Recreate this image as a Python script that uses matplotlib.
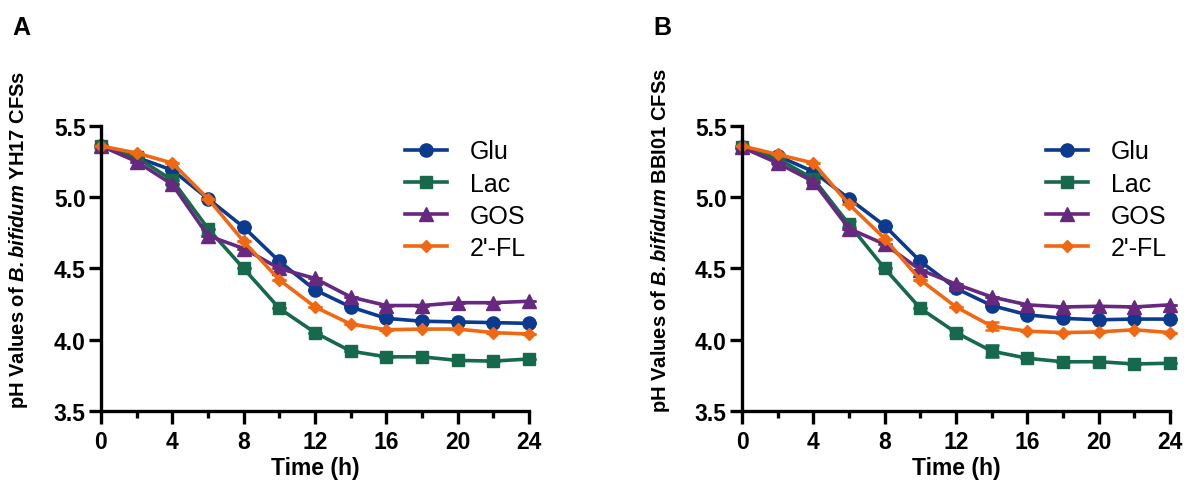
import numpy as np
import matplotlib.pyplot as plt
from matplotlib.ticker import MultipleLocator

plt.rcParams['font.family'] = ['Liberation Sans', 'DejaVu Sans']
plt.rcParams['mathtext.fontset'] = 'custom'
plt.rcParams['mathtext.bfit'] = 'Liberation Sans:bold:italic'

# sampling times (h)
time = [0, 2, 4, 6, 8, 10, 12, 14, 16, 18, 20, 22, 24]
series = ["Glu", "Lac", "GOS", "2'-FL"]

# panel A: B. bifidum YH17
yh17_glu = [5.36, 5.28, 5.19, 4.99, 4.79, 4.55, 4.35, 4.23, 4.15, 4.13, 4.125, 4.12, 4.115]
yh17_lac = [5.36, 5.28, 5.12, 4.78, 4.50, 4.22, 4.05, 3.92, 3.88, 3.88, 3.855, 3.85, 3.865]
yh17_gos = [5.36, 5.25, 5.09, 4.73, 4.64, 4.50, 4.43, 4.30, 4.24, 4.24, 4.26, 4.26, 4.27]
yh17_fl = [5.36, 5.31, 5.24, 4.99, 4.69, 4.42, 4.23, 4.11, 4.07, 4.075, 4.075, 4.05, 4.04]

# panel B: B. bifidum BBI01
bbi01_glu = [5.35, 5.29, 5.18, 4.99, 4.80, 4.55, 4.36, 4.24, 4.175, 4.15, 4.14, 4.145, 4.145]
bbi01_lac = [5.35, 5.27, 5.13, 4.81, 4.50, 4.22, 4.05, 3.92, 3.87, 3.845, 3.846, 3.83, 3.835]
bbi01_gos = [5.35, 5.24, 5.11, 4.78, 4.67, 4.49, 4.39, 4.30, 4.245, 4.23, 4.235, 4.23, 4.245]
bbi01_fl = [5.36, 5.30, 5.24, 4.95, 4.71, 4.42, 4.23, 4.095, 4.06, 4.05, 4.055, 4.07, 4.05]

# standard deviations (only a few are visible)
bbi01_lac_sd = [0, 0, 0, 0.02, 0, 0, 0.015, 0.04, 0, 0, 0, 0, 0]
bbi01_fl_sd = [0, 0, 0, 0, 0, 0, 0, 0.03, 0, 0, 0, 0, 0]
zero_sd = [0] * 13

colors = ["#0b3a8f", "#17694c", "#67287f", "#f06812"]
markers = ["o", "s", "^", "D"]
msizes = [9.5, 8.5, 9.5, 6]

panels = [
    ("A", "YH17", [yh17_glu, yh17_lac, yh17_gos, yh17_fl], [zero_sd] * 4),
    ("B", "BBI01", [bbi01_glu, bbi01_lac, bbi01_gos, bbi01_fl],
     [zero_sd, bbi01_lac_sd, zero_sd, bbi01_fl_sd]),
]

fig = plt.figure(figsize=(11.84, 4.89), dpi=100)
lefts = [0.0853, 0.6267]

for (letter, strain, data, sds), left in zip(panels, lefts):
    ax = fig.add_axes([left, 0.1575, 0.3615, 0.5828])
    for name, vals, sd, c, m, ms in zip(series, data, sds, colors, markers, msizes):
        ax.errorbar(time, vals, yerr=sd, fmt="none", ecolor=c, capsize=5,
                    elinewidth=1.8, capthick=1.8, clip_on=False)
        ax.plot(time, vals, color=c, marker=m, markersize=ms, lw=2.6,
                label=name, clip_on=False)

    ax.set_xlim(0, 24)
    ax.set_ylim(3.5, 5.5)
    ax.xaxis.set_major_locator(MultipleLocator(4))
    ax.xaxis.set_minor_locator(MultipleLocator(2))
    ax.yaxis.set_major_locator(MultipleLocator(0.5))
    ax.yaxis.set_major_formatter(plt.FormatStrFormatter('%.1f'))
    for s in ["top", "right"]:
        ax.spines[s].set_visible(False)
    for s in ["left", "bottom"]:
        ax.spines[s].set_linewidth(2.4)
    ax.tick_params(which="major", length=9, width=2.4, labelsize=16.5, pad=2)
    ax.tick_params(axis="x", which="major", pad=5)
    ax.tick_params(which="minor", length=5, width=2.4)
    for lab in ax.get_xticklabels() + ax.get_yticklabels():
        lab.set_fontweight("bold")

    ax.set_xlabel("Time (h)", fontsize=16.5, fontweight="bold", labelpad=2)
    ax.set_ylabel("pH Values of $\\mathbfit{B. bifidum}$ " + strain + " CFSs",
                  fontsize=14.5, fontweight="bold")
    ax.yaxis.set_label_coords(-0.1916, 0.6035)
    ax.yaxis.label.set_va("center")

    ax.legend(loc="upper left", bbox_to_anchor=(0.71, 0.953), frameon=False,
              fontsize=18, handlelength=1.7, handletextpad=0.9, labelspacing=0.33,
              borderpad=0, borderaxespad=0)

    fig.text(left - 0.0752, 0.928, letter, fontsize=18, fontweight="bold")

fig.savefig("out.png", dpi=100)
